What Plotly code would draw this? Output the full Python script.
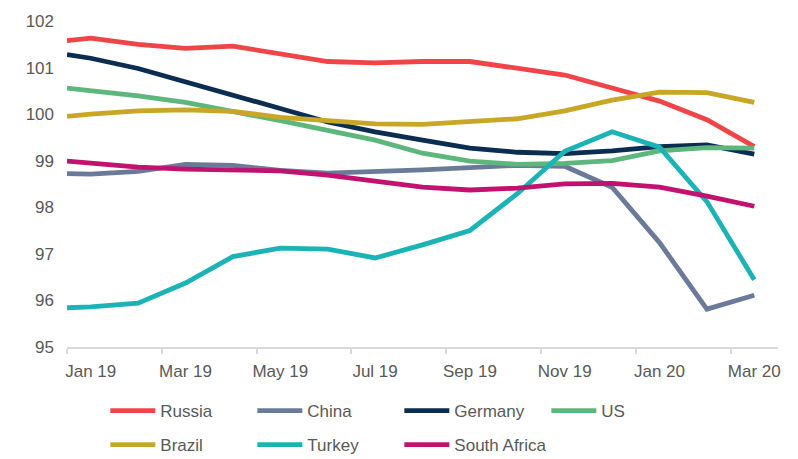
import plotly.graph_objects as go

# Monthly index levels, Jan 2019 - Mar 2020 (first value is the opening level)
months = ["Jan 19", "Feb 19", "Mar 19", "Apr 19", "May 19", "Jun 19", "Jul 19", "Aug 19",
          "Sep 19", "Oct 19", "Nov 19", "Dec 19", "Jan 20", "Feb 20", "Mar 20"]
tick_labels = ["Jan 19", "Mar 19", "May 19", "Jul 19", "Sep 19", "Nov 19", "Jan 20", "Mar 20"]

russia = [101.58, 101.63, 101.50, 101.41, 101.46, 101.29, 101.13, 101.10, 101.13, 101.13,
          100.98, 100.84, 100.56, 100.28, 99.88, 99.30]
china = [98.72, 98.71, 98.77, 98.92, 98.90, 98.79, 98.73, 98.76, 98.80, 98.85,
         98.90, 98.88, 98.43, 97.24, 95.81, 96.11]
germany = [101.28, 101.20, 100.98, 100.70, 100.41, 100.12, 99.83, 99.62, 99.44, 99.27,
           99.18, 99.15, 99.21, 99.30, 99.34, 99.14]
us = [100.56, 100.51, 100.39, 100.25, 100.06, 99.86, 99.65, 99.44, 99.16, 98.99,
      98.92, 98.94, 99.00, 99.21, 99.28, 99.27]
brazil = [99.95, 100.00, 100.07, 100.09, 100.06, 99.93, 99.86, 99.79, 99.78, 99.83,
          99.90, 100.07, 100.30, 100.47, 100.46, 100.25]
turkey = [95.84, 95.86, 95.94, 96.37, 96.94, 97.12, 97.10, 96.91, 97.19, 97.50,
          98.29, 99.20, 99.62, 99.29, 98.12, 96.44]
south_africa = [98.99, 98.95, 98.86, 98.82, 98.81, 98.78, 98.69, 98.57, 98.43, 98.37,
                98.41, 98.50, 98.51, 98.43, 98.24, 98.02]

# Category axis: each month occupies one unit; points sit at category centres,
# with the opening level at the left edge of the first category.
x_pos = [0.0] + [i + 0.5 for i in range(len(months))]
label_pos = [months.index(m) + 0.5 for m in tick_labels]

series = [
    ("Russia", russia, "#EF4548", "legend"),
    ("China", china, "#6C7A9A", "legend"),
    ("Germany", germany, "#0B2D52", "legend"),
    ("US", us, "#5DB77C", "legend"),
    ("Brazil", brazil, "#C8A727", "legend2"),
    ("Turkey", turkey, "#1BB3B6", "legend2"),
    ("South Africa", south_africa, "#C2126F", "legend2"),
]

FONT = "Liberation Sans, Arial, sans-serif"
GREY = "#595959"

fig = go.Figure()
for name, vals, color, leg in series:
    fig.add_trace(go.Scatter(
        x=x_pos, y=vals, name=name, mode="lines",
        line=dict(color=color, width=4.8),
        legend=leg,
    ))

legend_style = dict(
    orientation="h", xref="container", yref="container",
    x=0.132, xanchor="left", yanchor="middle",
    entrywidth=87, itemwidth=45, font=dict(size=17, color=GREY),
    bgcolor="rgba(0,0,0,0)",
)

fig.update_layout(
    width=798, height=459,
    margin=dict(l=67, r=20, t=18, b=107),
    paper_bgcolor="white", plot_bgcolor="white",
    font=dict(family=FONT, size=17, color=GREY),
    xaxis=dict(
        range=[0, 15], tickmode="array", tickvals=label_pos, ticktext=tick_labels,
        ticks="", showgrid=False, zeroline=False,
        showline=True, linecolor="#D9D9D9", linewidth=1.5,
        ticklabelstandoff=8,
        minor=dict(tickmode="linear", tick0=0, dtick=2, ticks="outside",
                   ticklen=5, tickwidth=1.5, tickcolor="#D9D9D9", showgrid=False),
    ),
    yaxis=dict(
        range=[95, 102], tickmode="array", tickvals=list(range(95, 103)),
        showgrid=False, zeroline=False, showline=False, ticks="",
        ticklabelstandoff=12,
    ),
    legend=dict(legend_style, y=1 - 411 / 459),
    legend2=dict(legend_style, y=1 - 445 / 459),
)

fig.write_html("out.html")
